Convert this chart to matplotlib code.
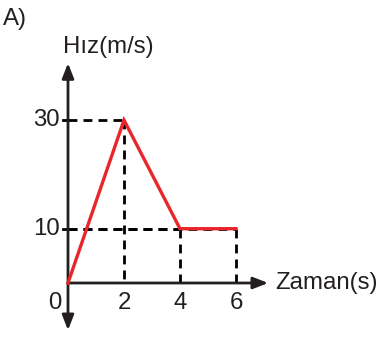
import matplotlib
matplotlib.use("Agg")
from matplotlib import pyplot as plt

# hız-zaman grafiği
times = [0, 2, 4, 6]
speeds = [0, 30, 10, 10]
xticks = [2, 4, 6]
yticks = [10, 30]

plt.rcParams['font.family'] = ['Liberation Sans', 'DejaVu Sans']

W, H = 383, 338
X0, Y0 = 68, 283     # orijin (piksel)
SX, SY = 28.0, 5.43  # piksel / birim

fig = plt.figure(figsize=(W / 100, H / 100), dpi=100)
ax = fig.add_axes([0, 0, 1, 1])
ax.set_xlim(-X0 / SX, (W - X0) / SX)
ax.set_ylim(-(H - Y0) / SY, Y0 / SY)
ax.axis("off")

dash = dict(color="black", lw=2, dashes=(3.2, 2.2))
# kesikli yardımcı çizgiler
for t, v in zip(times[1:], speeds[1:]):
    ax.plot([0, t], [v, v], **dash)
    ax.plot([t, t], [v, 0], **dash)

# eksenler
arr = dict(arrowstyle="-|>,head_length=0.9,head_width=0.35", lw=2,
           color="#231f20", shrinkA=0, shrinkB=0)
ax.annotate("", xy=(0, 40.5), xytext=(0, 0), arrowprops=arr)
ax.annotate("", xy=(0, -8.7), xytext=(0, 0), arrowprops=arr)
ax.annotate("", xy=(7.15, 0), xytext=(0, 0), arrowprops=arr)

# eğri
ax.plot(times, speeds, color="#e8262b", lw=2.4, solid_joinstyle="miter", zorder=5)

fs = 17.3
for v in yticks:
    ax.plot([-5 / SX, 0], [v, v], color="black", lw=2)
    ax.text(-8 / SX, v, str(v), ha="right", va="center", fontsize=fs, color="#231f20")
for t in xticks:
    ax.text(t, -3.7, str(t), ha="center", va="center", fontsize=fs, color="#231f20")
ax.text(-13 / SX, -3.7, "0", ha="center", va="center", fontsize=fs, color="#231f20")

ax.text(7.4, 0, "Zaman(s)", ha="left", va="center", fontsize=fs, color="#231f20")
ax.text(-5 / SX, (Y0 - 47) / SY, "Hız(m/s)", ha="left", va="center", fontsize=fs, color="#231f20")
ax.text(-X0 / SX + 3 / SX, (Y0 - 19) / SY, "A)", ha="left", va="center", fontsize=fs, color="#231f20")

fig.savefig("out.png", dpi=100)
